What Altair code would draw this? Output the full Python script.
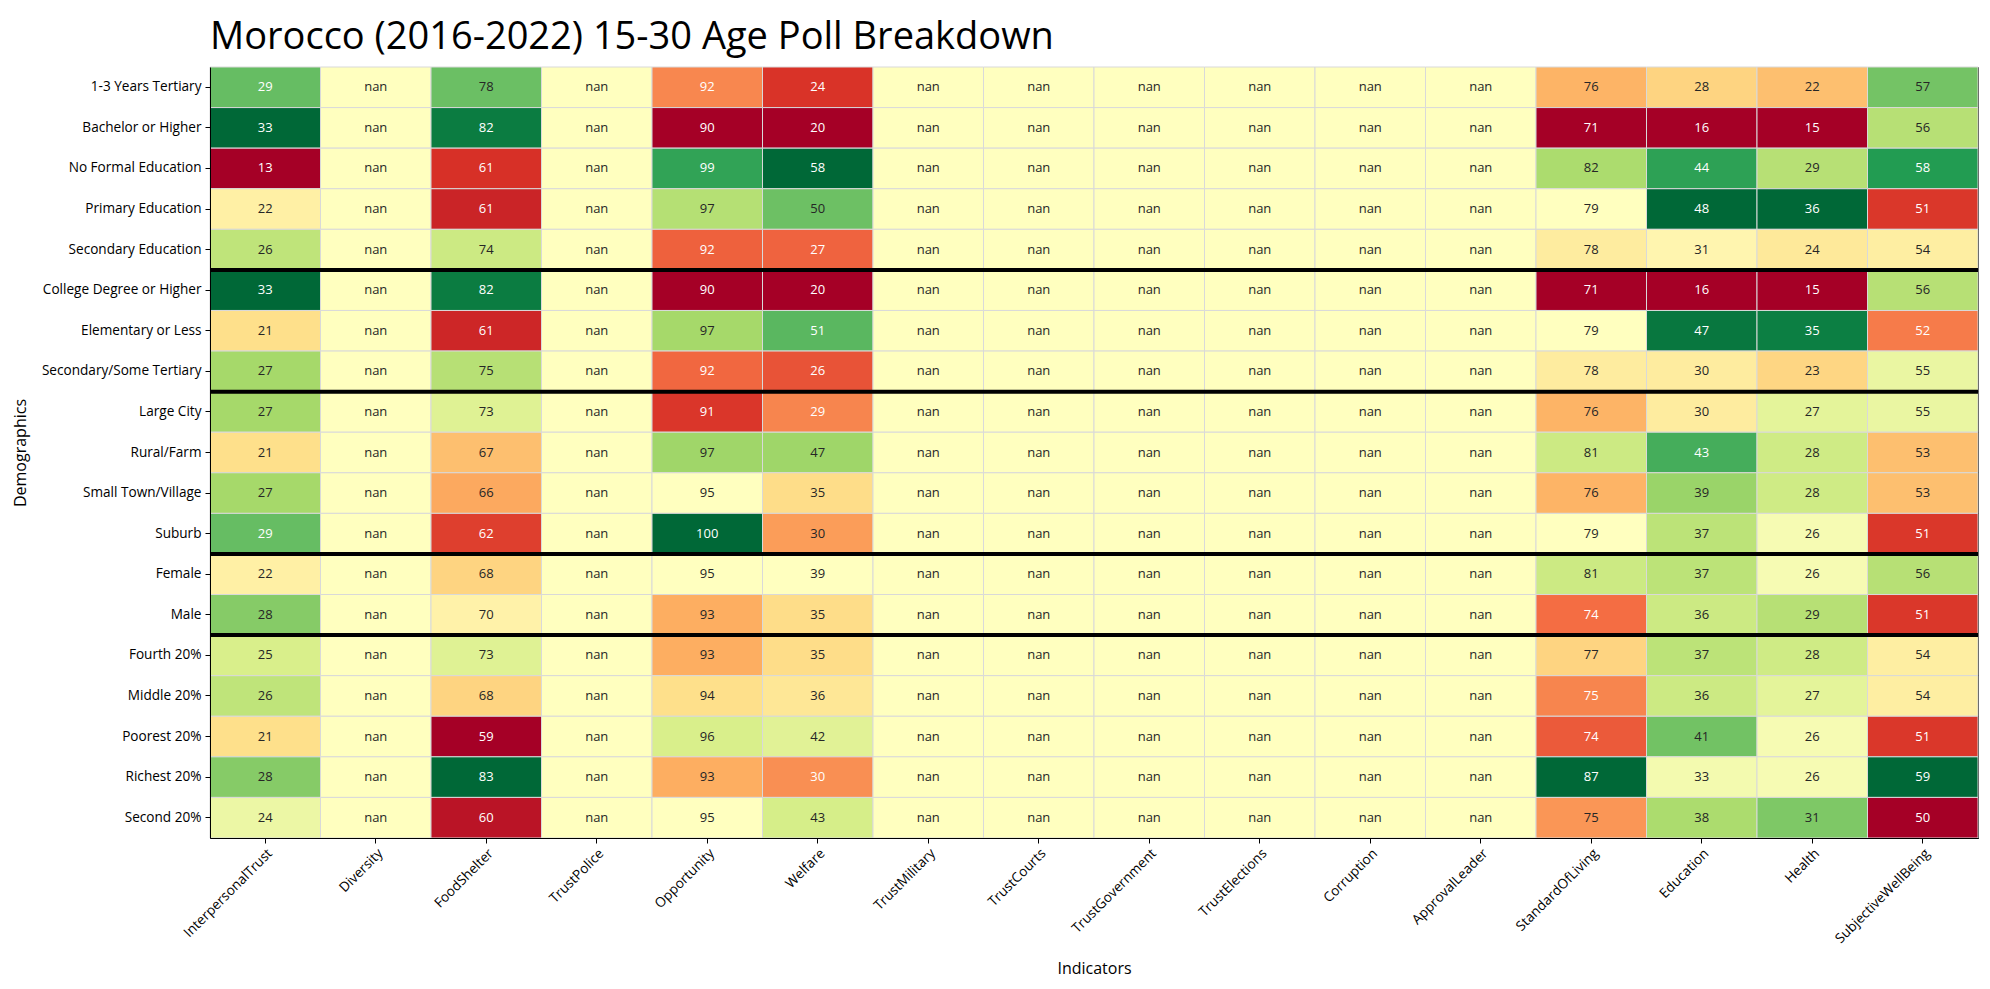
import altair as alt
import pandas as pd
import numpy as np

title_text = "Morocco (2016-2022) 15-30 Age Poll Breakdown"

rows = [
    "1-3 Years Tertiary", "Bachelor or Higher", "No Formal Education", "Primary Education",
    "Secondary Education", "College Degree or Higher", "Elementary or Less",
    "Secondary/Some Tertiary", "Large City", "Rural/Farm", "Small Town/Village", "Suburb",
    "Female", "Male", "Fourth 20%", "Middle 20%", "Poorest 20%", "Richest 20%", "Second 20%",
]

indicators = [
    "InterpersonalTrust", "Diversity", "FoodShelter", "TrustPolice", "Opportunity", "Welfare",
    "TrustMilitary", "TrustCourts", "TrustGovernment", "TrustElections", "Corruption",
    "ApprovalLeader", "StandardOfLiving", "Education", "Health", "SubjectiveWellBeing",
]

interpersonal_trust = [29, 33, 13, 22, 26, 33, 21, 27, 27, 21, 27, 29, 22, 28, 25, 26, 21, 28, 24]
food_shelter = [78, 82, 61.4, 60.8, 74, 82, 60.9, 75, 73, 67, 66, 62, 68, 70, 73, 68, 59, 83, 60]
opportunity = [92.4, 90, 98.7, 96.7, 91.8, 90, 97, 91.9, 91.1, 97.1, 95, 100, 95, 93, 93, 94, 96, 93, 95]
welfare = [24, 20, 58, 50, 27, 20, 51, 26, 29, 47, 35, 30.4, 39, 35, 35, 36, 42, 29.6, 43]
standard_of_living = [76, 71, 82, 79, 78, 71, 79, 78, 76, 81, 76, 79, 81, 74.2, 77, 74.8, 73.7, 87, 75.2]
education = [28, 16, 44, 48, 31, 16, 47, 30, 30, 43, 39, 37, 37, 36, 37, 36, 41, 33, 38]
health = [22, 15, 29, 36, 24, 15, 35, 23, 27, 28, 28, 26, 26, 29, 28, 27, 26, 26, 31]
subjective_wellbeing = [57, 56, 58, 51, 54, 56, 52, 55, 55, 53, 53, 51, 56, 51, 54, 54, 51, 59, 50]

series = {
    "InterpersonalTrust": interpersonal_trust,
    "FoodShelter": food_shelter,
    "Opportunity": opportunity,
    "Welfare": welfare,
    "StandardOfLiving": standard_of_living,
    "Education": education,
    "Health": health,
    "SubjectiveWellBeing": subjective_wellbeing,
}

separator_rows = ["College Degree or Higher", "Large City", "Female", "Fourth 20%"]

recs = []
for ind in indicators:
    vals = series.get(ind)
    for i, r in enumerate(rows):
        v = vals[i] if vals is not None else np.nan
        recs.append({"Demographics": r, "Indicators": ind, "value": v})
df = pd.DataFrame(recs)
sep_df = pd.DataFrame({"Demographics": separator_rows})

rdylgn = ["#a50026", "#d73027", "#f46d43", "#fdae61", "#fee08b", "#ffffbf",
          "#d9ef8b", "#a6d96a", "#66bd63", "#1a9850", "#006837"]
stops = [i / 10 for i in range(11)]

xscale = alt.Scale(domain=indicators, paddingInner=0, paddingOuter=0)
yscale = alt.Scale(type="band", domain=rows, paddingInner=0, paddingOuter=0)

base = alt.Chart(df).transform_joinaggregate(
    mn="min(value)", mx="max(value)", groupby=["Indicators"]
).transform_calculate(
    norm="isValid(datum.value) ? (datum.value - datum.mn) / (datum.mx - datum.mn) : 0.5",
    label="isValid(datum.value) ? format(datum.value, '.0f') : 'nan'",
)

xenc = alt.X("Indicators:N", scale=xscale, title="Indicators",
             axis=alt.Axis(labelAngle=-45, labelAlign="right", labelBaseline="top",
                           labelFontSize=13.6, titleFontSize=16, titlePadding=15,
                           tickSize=5, labelPadding=3, titleFontWeight="normal"))
yenc = alt.Y("Demographics:N", scale=yscale, title="Demographics",
             axis=alt.Axis(labelFontSize=13.6, titleFontSize=16, titlePadding=13,
                           tickSize=5, labelPadding=4, titleFontWeight="normal"))

rect = base.mark_rect(stroke="#d9d9d9", strokeWidth=1).encode(
    x=xenc,
    y=yenc,
    color=alt.Color("norm:Q", legend=None,
                    scale=alt.Scale(domain=stops, range=rdylgn, interpolate="rgb")),
)

text = base.mark_text(fontSize=13, font="Open Sans").encode(
    x=alt.X("Indicators:N", scale=xscale),
    y=alt.Y("Demographics:N", scale=yscale),
    text="label:N",
    color=alt.condition("datum.norm < 0.255 || datum.norm > 0.797",
                        alt.value("white"), alt.value("#262626")),
)

rules = alt.Chart(sep_df).mark_rule(color="black", strokeWidth=4).encode(
    y=alt.Y("Demographics:N", scale=yscale, bandPosition=0),
)

chart = alt.layer(rect, text, rules).properties(
    width=1768, height=771,
    padding={"left": 4, "top": 10, "right": 2, "bottom": 8},
    title=alt.TitleParams(title_text, fontSize=38, anchor="start", frame="group",
                          fontWeight="normal", color="black", offset=10, font="Open Sans"),
).configure(font="Open Sans").configure_view(
    stroke="black", strokeWidth=1
).configure_axis(
    labelColor="black", titleColor="black", domainColor="black", tickColor="black",
    grid=False, labelFont="Open Sans", titleFont="Open Sans",
)

chart.save("out.html", embed_options={"renderer": "svg", "actions": False})
